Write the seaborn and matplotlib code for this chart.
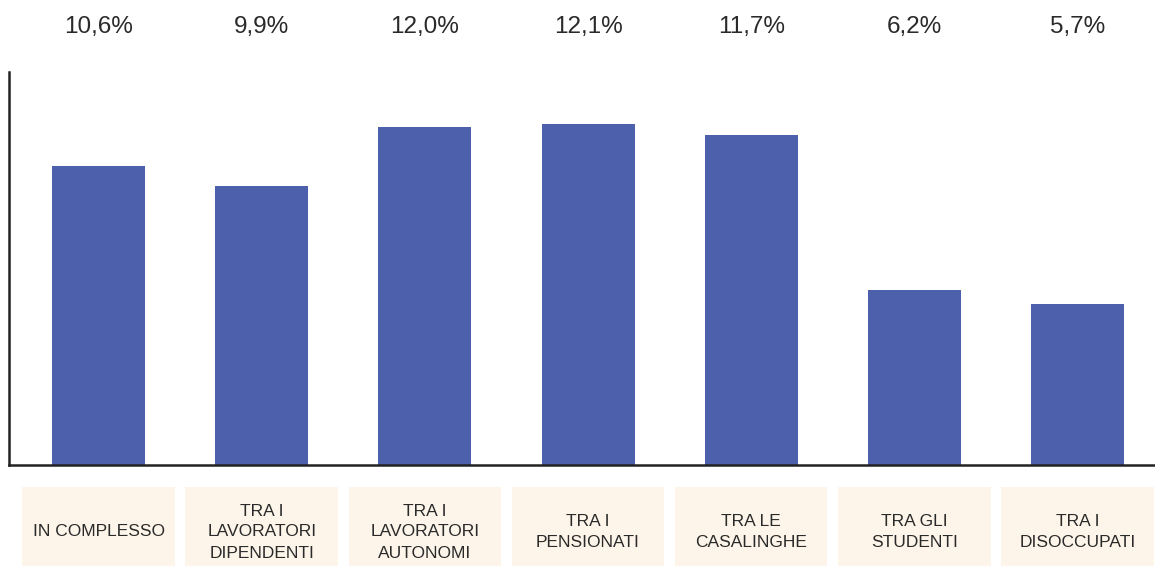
import matplotlib
matplotlib.use("Agg")
import matplotlib.pyplot as plt
import matplotlib.transforms as mtransforms
from matplotlib.patches import Rectangle
import seaborn as sns
import pandas as pd

categories = ["IN COMPLESSO", "TRA I\nLAVORATORI\nDIPENDENTI", "TRA I\nLAVORATORI\nAUTONOMI",
              "TRA I\nPENSIONATI", "TRA LE\nCASALINGHE", "TRA GLI\nSTUDENTI", "TRA I\nDISOCCUPATI"]
values = [10.6, 9.9, 12.0, 12.1, 11.7, 6.2, 5.7]
value_labels = ["10,6%", "9,9%", "12,0%", "12,1%", "11,7%", "6,2%", "5,7%"]

sns.set_style("white")
plt.rcParams['font.family'] = ['Liberation Sans', 'DejaVu Sans']

W, H = 1155, 566
fig = plt.figure(figsize=(W / 100, H / 100), dpi=100)
ax_left, ax_right, ax_bottom, ax_top = 9, 1155, 465, 72
ax = fig.add_axes([ax_left / W, 1 - ax_bottom / H, (ax_right - ax_left) / W, (ax_bottom - ax_top) / H])

df = pd.DataFrame({"cat": categories, "val": values})
bar_color = "#4C60AB"
sns.barplot(data=df, x="cat", y="val", color=bar_color, saturation=1, width=0.57,
            linewidth=0, ax=ax)

ax.set_xlim(-0.549, 6.475)
ax.set_ylim(0, 13.95)
ax.set_xlabel("")
ax.set_ylabel("")
ax.set_xticks([])
ax.set_yticks([])
for s in ["top", "right"]:
    ax.spines[s].set_visible(False)
for s in ["left", "bottom"]:
    ax.spines[s].set_color("#222222")
    ax.spines[s].set_linewidth(1.8)

# percentage labels above the plot area
trans_top = mtransforms.blended_transform_factory(ax.transData, fig.transFigure)
for i, lab in enumerate(value_labels):
    ax.text(i, 1 - 27 / H, lab, transform=trans_top, ha="center", va="center",
            fontsize=17.5, color="#2a2a2a", clip_on=False)

# category boxes below the plot
box_w = 0.935
box_y0 = 0.0
box_h = (566 - 487) / H
for i, cat in enumerate(categories):
    r = Rectangle((i - box_w / 2, box_y0), box_w, box_h, transform=trans_top,
                  facecolor="#FDF5E9", edgecolor="none", clip_on=False, zorder=5)
    ax.add_patch(r)
    ax.text(i, 34 / H, cat, transform=trans_top, ha="center", va="center",
            fontsize=12.5, color="#2a2a2a", linespacing=1.5, clip_on=False, zorder=6)

fig.savefig("out.png", dpi=100)
